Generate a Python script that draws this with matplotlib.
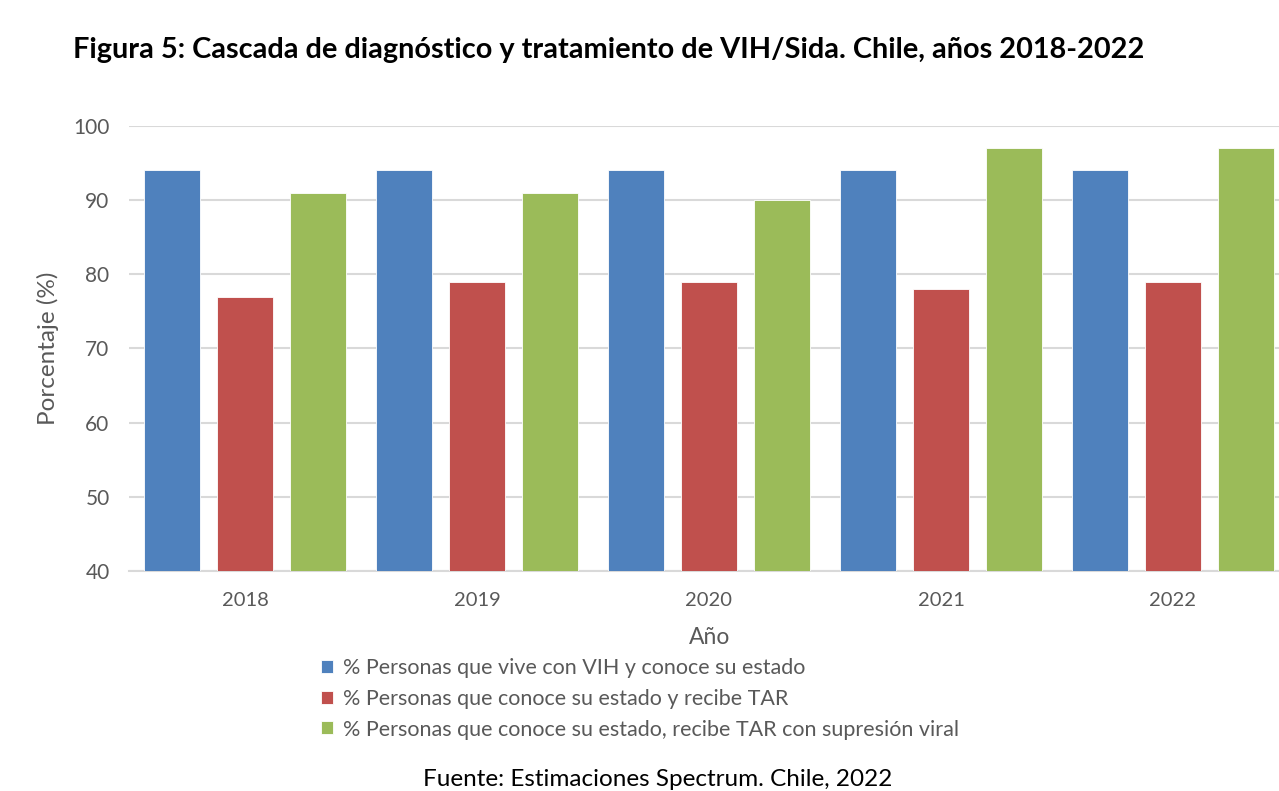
import numpy as np
import matplotlib.pyplot as plt

years = ['2018', '2019', '2020', '2021', '2022']
conoce = [94, 94, 94, 94, 94]
recibe_tar = [77, 79, 79, 78, 79]
supresion = [91, 91, 90, 97, 97]
labels = ['% Personas que vive con VIH y conoce su estado',
          '% Personas que conoce su estado y recibe TAR',
          '% Personas que conoce su estado, recibe TAR con supresión viral']
colors = ['#4f81bd', '#c0504d', '#9bbb59']

plt.rcParams['font.family'] = ['Lato', 'DejaVu Sans']

fig = plt.figure(figsize=(12.79, 7.91), dpi=100)
ax = fig.add_axes([129 / 1279, 1 - 571 / 791, 1160 / 1279, 445 / 791])

x = np.arange(len(years))
w = 0.24
off = 0.315
for i, (vals, lab, col) in enumerate(zip([conoce, recibe_tar, supresion], labels, colors)):
    ax.bar(x + (i - 1) * off, vals, width=w, color=col, label=lab,
           edgecolor='white', linewidth=0.6, zorder=3)

ax.set_ylim(40, 100)
ax.set_xlim(-0.5, 4.5)
ax.set_yticks(range(40, 101, 10))
ax.set_xticks(x)
ax.set_xticklabels(years)
ax.grid(axis='y', color='#d9d9d9', linewidth=1.5, zorder=0)
for s in ['top', 'right', 'left']:
    ax.spines[s].set_visible(False)
ax.spines['bottom'].set_color('#d9d9d9')
ax.spines['bottom'].set_linewidth(1.5)
ax.tick_params(length=0, labelsize=15, labelcolor='#595959', pad=14)
ax.tick_params(axis='x', labelsize=14.5, pad=15)

fig.text(48 / 1279, 1 - 348 / 791, 'Porcentaje (%)', fontsize=17.5, color='#595959',
         rotation=90, ha='center', va='center')
fig.text(710 / 1279, 1 - 637 / 791, 'Año', fontsize=16.5, color='#595959',
         ha='center', va='center')

fig.text(609 / 1279, 1 - 50 / 791,
         'Figura 5: Cascada de diagnóstico y tratamiento de VIH/Sida. Chile, años 2018-2022',
         fontsize=20.8, fontweight='bold', ha='center', va='center')

handles, labs = ax.get_legend_handles_labels()
fig.legend(handles, labs, loc='upper left', bbox_to_anchor=(321 / 1279, 1 - 658 / 791),
           frameon=False, fontsize=15.5, labelcolor='#595959', handlelength=0.55,
           handleheight=0.55, handletextpad=0.45, labelspacing=0.5, borderaxespad=0,
           borderpad=0)

fig.text(658 / 1279, 1 - 779 / 791, 'Fuente: Estimaciones Spectrum. Chile, 2022',
         fontsize=17.5, ha='center', va='center')

fig.savefig('out.png', dpi=100)
